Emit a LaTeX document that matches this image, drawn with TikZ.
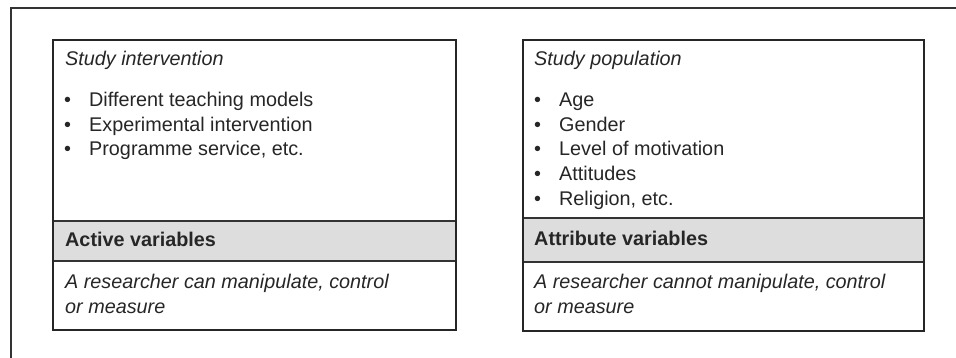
\documentclass[tikz,border=0pt]{standalone}
\usepackage{fontspec}
\setmainfont{Liberation Sans}
\usetikzlibrary{positioning}

\tikzset{
  part/.style={inner sep=0pt, outer sep=0pt},
  frame/.style={draw=black!85, line width=2.4pt},
  rule/.style={draw=black!80, line width=1.3pt},
  border/.style={draw=black!80, line width=1.4pt},
  txt/.style={anchor=base west, inner sep=0pt, text=black!85, align=left,
              font=\fontsize{19.8}{25}\selectfont},
  head/.style={txt, font=\fontsize{19.8}{25}\selectfont\itshape},
  bold/.style={txt, font=\fontsize{19.8}{25}\selectfont\bfseries},
}
\newcommand{\blt}[1]{\makebox[25pt][l]{\textbullet}#1}

\begin{document}
\begin{tikzpicture}[x=1pt,y=-1pt]

\useasboundingbox (0,0) rectangle (956,358);

%page border
\coordinate (pgTL) at (11,8);
\coordinate (pgTR) at (956,8);
\coordinate (pgBL) at (11,358);
\draw[border] (pgBL) -- (pgTL) -- (pgTR);

%left box
\node[part, minimum width=403pt, minimum height=181pt, anchor=north west] (intv) at (53,40) {};
\node[part, minimum width=403pt, minimum height=40pt, fill=gray!27, below=0pt of intv] (actv) {};
\node[part, minimum width=403pt, minimum height=69pt, below=0pt of actv] (actn) {};
\draw[rule] (actv.north west) -- (actv.north east);
\draw[rule] (actv.south west) -- (actv.south east);
\draw[frame] (intv.north west) rectangle (actn.south east);

\node[head] (intvhead) at (65,66) {Study intervention};
\node[txt] (intv1) at (64,107) {\blt{Different teaching models}};
\node[txt] (intv2) at (64,131.5) {\blt{Experimental intervention}};
\node[txt] (intv3) at (64,156) {\blt{Programme service, etc.}};
\node[bold] (actvlab) at (65,247) {Active variables};
\node[head] (actnlab) at (65,313) {A researcher can manipulate, control\\or measure}; % base = last line

%right box
\node[part, minimum width=401pt, minimum height=178pt, anchor=north west] (popn) at (523,40) {};
\node[part, minimum width=401pt, minimum height=44pt, fill=gray!27, below=0pt of popn] (attr) {};
\node[part, minimum width=401pt, minimum height=69pt, below=0pt of attr] (attn) {};
\draw[rule] (attr.north west) -- (attr.north east);
\draw[rule] (attr.south west) -- (attr.south east);
\draw[frame] (popn.north west) rectangle (attn.south east);

\node[head] (popnhead) at (534,66) {Study population};
\node[txt] (popn1) at (534,107) {\blt{Age}};
\node[txt] (popn2) at (534,131.5) {\blt{Gender}};
\node[txt] (popn3) at (534,156) {\blt{Level of motivation}};
\node[txt] (popn4) at (534,181) {\blt{Attitudes}};
\node[txt] (popn5) at (534,206) {\blt{Religion, etc.}};
\node[bold] (attrlab) at (534,246) {Attribute variables};
\node[head] (attnlab) at (534,313) {A researcher cannot manipulate, control\\or measure};

\end{tikzpicture}
\end{document}
